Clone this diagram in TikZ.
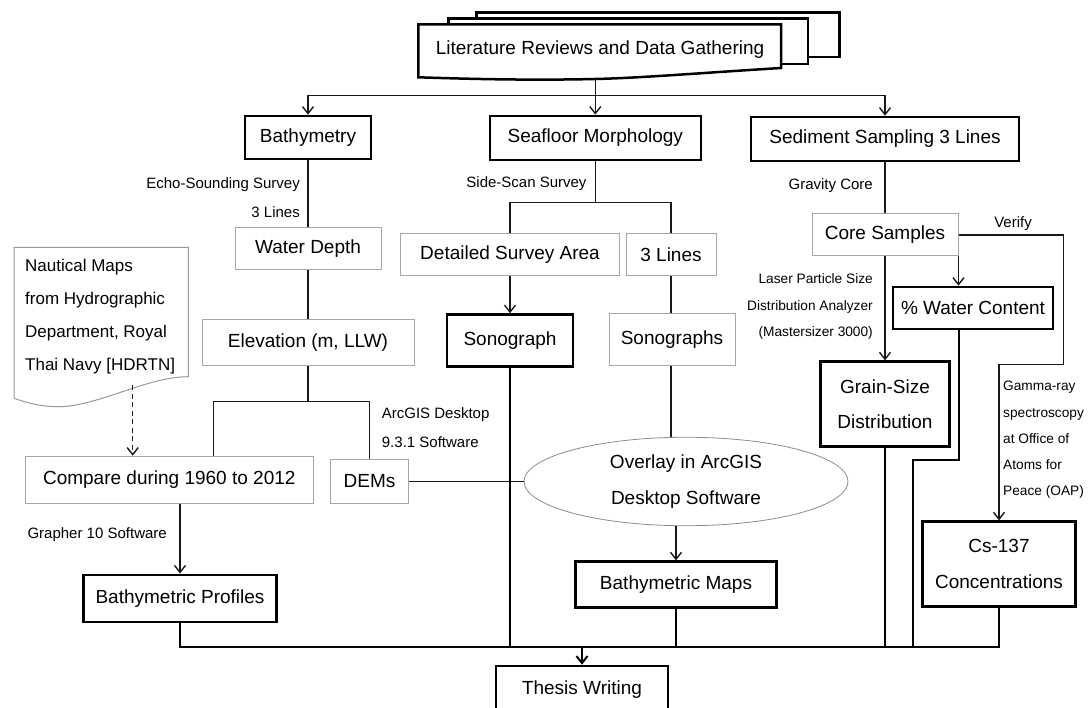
\documentclass[tikz,border=0pt]{standalone}
\usepackage{fontspec}
\setmainfont{Liberation Sans}
\usetikzlibrary{arrows.meta,shapes.geometric}
\begin{document}
\begin{tikzpicture}[x=1pt,y=-1pt,
  thickbox/.style={draw=black,line width=2.6pt,fill=white,inner sep=0pt,align=center,font=\fontsize{19}{35.7}\selectfont},
  thinbox/.style={draw=black!35,line width=1pt,fill=white,inner sep=0pt,align=center,font=\fontsize{19}{23}\selectfont},
  lbl/.style={inner sep=0pt,font=\fontsize{15}{29}\selectfont},
  lbls/.style={inner sep=0pt,font=\fontsize{13.7}{26.2}\selectfont},
  conn/.style={line width=1.4pt,draw=black!90},
  connb/.style={line width=2pt},
  arr/.style={-{Straight Barb[length=7pt,width=11pt]}},
  pagestyle/.style={draw=black,line width=2.5pt,fill=white},
]
\useasboundingbox (0,0) rectangle (1092,708);

% title stack
\draw[pagestyle] (476.7,12.3) rectangle (839.4,57);
\draw[pagestyle] (448.3,18.3) rectangle (808,64);
\draw[pagestyle] (418.3,24.3) -- (781,24.3) -- (781,68) .. controls (700,73) and (640,78) .. (595.3,79) .. controls (530,80.5) and (470,79) .. (418.3,77.3) -- cycle;
\node[inner sep=0pt,font=\fontsize{19}{23}\selectfont] (title) at (600,50) {Literature Reviews and Data Gathering};

% nautical maps document
\draw[draw=black!40,line width=1pt,fill=white] (14,247.3) -- (188.3,247.3) -- (188.3,376.7) .. controls (150,377) and (110,400) .. (70,406) .. controls (45,409) and (25,402) .. (14,398.3) -- cycle;
\node[inner sep=0pt,anchor=west,align=left,font=\fontsize{17}{32.7}\selectfont] (naut) at (25,316.6) {Nautical Maps\\from Hydrographic\\Department, Royal\\Thai Navy [HDRTN]};

% boxes
\node[thickbox,minimum width=126pt,minimum height=43pt] (bathy) at (308,137.5) {Bathymetry};
\node[thickbox,minimum width=211pt,minimum height=44pt] (seafloor) at (595.3,138) {Seafloor Morphology};
\node[thickbox,minimum width=268pt,minimum height=44pt] (sediment) at (885,139) {Sediment Sampling 3 Lines};
\node[thinbox,minimum width=146pt,minimum height=42pt] (water) at (308,248.2) {Water Depth};
\node[thinbox,minimum width=212pt,minimum height=46pt] (elev) at (308,343) {Elevation (m, LLW)};
\node[thinbox,minimum width=288pt,minimum height=47pt] (compare) at (169.3,479.7) {Compare during 1960 to 2012};
\node[thinbox,minimum width=78pt,minimum height=44pt] (dems) at (369.5,481.5) {DEMs};
\node[thickbox,minimum width=193pt,minimum height=47pt] (bprof) at (180,598.3) {Bathymetric Profiles};
\node[thinbox,minimum width=218.6pt,minimum height=42.4pt] (detailed) at (510,254.5) {Detailed Survey Area};
\node[thinbox,minimum width=90pt,minimum height=42.4pt] (threel) at (671,254.5) {3 Lines};
\node[thickbox,minimum width=126pt,minimum height=52pt] (sonog) at (510,340.5) {Sonograph};
\node[thinbox,minimum width=126pt,minimum height=52pt] (sonogs) at (672,339.5) {Sonographs};
\node[ellipse,draw=black!45,line width=0.8pt,fill=white,minimum width=324pt,minimum height=88.5pt,inner sep=0pt,align=center,font=\fontsize{19}{35.7}\selectfont] (overlay) at (686,481.5) {Overlay in ArcGIS\\Desktop Software};
\node[thickbox,minimum width=200.6pt,minimum height=45.6pt] (bmaps) at (676,584.5) {Bathymetric Maps};
\node[thickbox,minimum width=172pt,minimum height=48pt] (thesis) at (582,690) {Thesis Writing};
\node[thinbox,minimum width=146pt,minimum height=42pt] (core) at (885,235) {Core Samples};
\node[thickbox,minimum width=160pt,minimum height=42pt] (wc) at (973,308) {\% Water Content};
\node[thickbox,minimum width=129pt,minimum height=85pt] (grain) at (885,404.2) {Grain-Size\\Distribution};
\node[thickbox,minimum width=153pt,minimum height=85pt] (cs) at (999,564.2) {Cs-137\\Concentrations};

% labels
\node[lbl,anchor=east,align=right] (echo) at (300,197.5) {Echo-Sounding Survey\\3 Lines};
\node[lbl,anchor=east] (side) at (586.7,183.3) {Side-Scan Survey};
\node[lbl,anchor=east] (gravity) at (873,186) {Gravity Core};
\node[lbls,anchor=east,align=right] (laser) at (873,306.5) {Laser Particle Size\\Distribution Analyzer\\(Mastersizer 3000)};
\node[lbl] (verify) at (1013,224) {Verify};
\node[lbls,anchor=west,align=left] (gamma) at (1003,440) {Gamma-ray\\spectroscopy\\at Office of\\Atoms for\\Peace (OAP)};
\node[lbl,anchor=west,align=left,font=\fontsize{15}{28.4}\selectfont] (arcgis) at (381.7,427.5) {ArcGIS Desktop\\9.3.1 Software};
\node[lbl,anchor=east] (grapher) at (167,534.3) {Grapher 10 Software};

% connectors: top
\coordinate (tb) at (595.3,79);
\coordinate (j1) at (595.3,95.7);
\draw[conn,arr] (tb) -- (seafloor.north);
\draw[conn,arr] (j1) -| (bathy.north);
\draw[conn,arr] (j1) -| (sediment.north);

% left column
\draw[conn] (bathy.south) -- (water.north);
\draw[conn] (water.south) -- (elev.north);
\coordinate (j2) at (308,401.7);
\coordinate (ctop) at (213.7,401.7);
\draw[conn] (elev.south) -- (j2);
\draw[conn] (j2) -| (dems.north);
\draw[conn] (j2) -- (ctop) -- (ctop |- compare.north);
\coordinate (nb) at (132.7,385);
\draw[conn,dash pattern=on 5pt off 3.5pt,arr] (nb) -- (nb |- compare.north);
\draw[conn,arr] (bprof.north |- compare.south) -- (bprof.north);

% middle column
\coordinate (j3) at (595.3,202.7);
\draw[conn] (seafloor.south) -- (j3);
\draw[conn] (j3) -| (detailed.north);
\draw[conn] (j3) -| (threel.north);
\draw[conn,arr] (detailed.south) -- (sonog.north);
\draw[conn] (threel.south) -- (threel.south |- sonogs.north);
\draw[conn] (threel.south |- sonogs.south) -- (threel.south |- overlay.north);
\draw[conn] (dems.east) -- (overlay.west);
\draw[conn,arr] (bmaps.north |- overlay.south) -- (bmaps.north);

% right column
\draw[conn] (sediment.south) -- (core.north);
\draw[conn,arr] (core.south) -- (grain.north);
\draw[conn,arr] (core.south east) -- (core.south east |- wc.north);
\coordinate (v1) at (1063.3,364.3);
\draw[conn,arr] (core.east) -| (v1) -| (cs.north);

% bottom bus
\coordinate (busy) at (0,647);
\coordinate (w1) at (913.3,460);
\draw[connb] (bprof.south) -- (bprof.south |- busy) -- (cs.south |- busy) -- (cs.south);
\draw[connb] (sonog.south) -- (sonog.south |- busy);
\draw[connb] (bmaps.south) -- (bmaps.south |- busy);
\draw[connb] (grain.south) -- (grain.south |- busy);
\draw[connb] ([xshift=-14pt]wc.south) |- (w1) -- (w1 |- busy);
\draw[connb,arr] (thesis.north |- busy) -- (thesis.north);
\end{tikzpicture}
\end{document}
